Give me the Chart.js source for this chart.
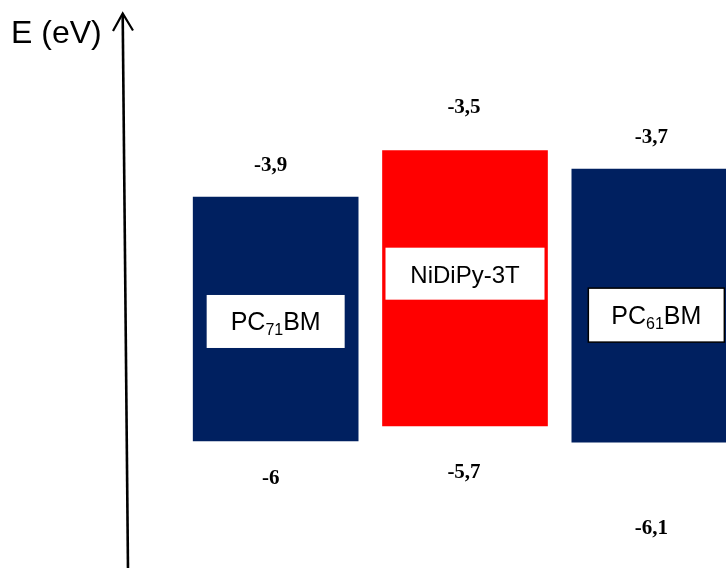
<!DOCTYPE html>
<html>
<head>
<meta charset="utf-8">
<script src="https://cdn.jsdelivr.net/npm/chart.js@4/dist/chart.umd.min.js"></script>
<style>
  html, body { margin: 0; padding: 0; background: #fff; overflow: hidden; }
</style>
</head>
<body>
<canvas id="myChart" width="749" height="568"></canvas>
<script>
// materials, in drawing order
const materials = ['PC71BM', 'NiDiPy-3T', 'PC61BM'];
// name pieces: [text, subscript, text]
const nameParts = [['PC', '71', 'BM'], ['NiDiPy-3T', '', ''], ['PC', '61', 'BM']];

// energies written on the diagram (eV)
const lumoValues = [-3.9, -3.5, -3.7];
const homoValues = [-6, -5.7, -6.1];

// level extents as drawn in the picture (eV, the sketch is not to scale)
const drawnTop = [-3.9, -3.5, -3.66];
const drawnBottom = [-6.0, -5.87, -6.01];

const barColors = ['#002060', '#FF0000', '#002060'];

// label placement, px from the bar ends
const topLabelOffset = [-31, -43, -31];
const bottomLabelOffset = [38, 47, 86];
const labelShiftX = [-5, -1, -3];
// white name boxes
const boxWidth = [138, 159, 136];
const boxHeight = [53, 52, 54];
const boxShiftY = [2.5, -14.5, 9.5];
const boxShiftX = [0, 0, 2];
const boxBorder = [false, false, true];

const fmt = v => String(v).replace('.', ',');

const decorations = {
    id: 'decorations',
    afterDatasetsDraw(chart) {
        const ctx = chart.ctx;
        const bars = chart.getDatasetMeta(0).data;
        ctx.save();

        bars.forEach((bar, i) => {
            const top = Math.min(bar.y, bar.base);
            const bottom = Math.max(bar.y, bar.base);
            const cx = bar.x + boxShiftX[i];
            const cy = (top + bottom) / 2 + boxShiftY[i];

            // name box
            ctx.fillStyle = '#fff';
            ctx.fillRect(cx - boxWidth[i] / 2, cy - boxHeight[i] / 2, boxWidth[i], boxHeight[i]);
            if (boxBorder[i]) {
                ctx.strokeStyle = '#000';
                ctx.lineWidth = 1.5;
                ctx.strokeRect(cx - boxWidth[i] / 2, cy - boxHeight[i] / 2, boxWidth[i], boxHeight[i]);
            }

            // name with subscript
            const [a, sub, b] = nameParts[i];
            const big = sub ? '25px "Liberation Sans"' : '24px "Liberation Sans"';
            const small = '16px "Liberation Sans"';
            ctx.font = big;
            const wa = ctx.measureText(a).width;
            const wb = ctx.measureText(b).width;
            ctx.font = small;
            const ws = ctx.measureText(sub).width;
            let x = cx - (wa + ws + wb) / 2;
            const base = cy + 9;
            ctx.fillStyle = '#000';
            ctx.textAlign = 'left';
            ctx.textBaseline = 'alphabetic';
            ctx.font = big;
            ctx.fillText(a, x, base);
            x += wa;
            ctx.font = small;
            ctx.fillText(sub, x, base + 5);
            x += ws;
            ctx.font = big;
            ctx.fillText(b, x, base);

            // energy values
            ctx.font = 'bold 21px "Liberation Serif"';
            ctx.textAlign = 'center';
            ctx.textBaseline = 'middle';
            ctx.fillText(fmt(lumoValues[i]), bar.x + labelShiftX[i], top + topLabelOffset[i]);
            ctx.fillText(fmt(homoValues[i]), bar.x + labelShiftX[i], bottom + bottomLabelOffset[i]);
        });

        // energy axis arrow
        ctx.strokeStyle = '#000';
        ctx.lineWidth = 2.6;
        ctx.lineCap = 'butt';
        ctx.beginPath();
        ctx.moveTo(128, 570);
        ctx.lineTo(122.7, 15);
        ctx.stroke();
        ctx.lineWidth = 2.2;
        ctx.beginPath();
        ctx.moveTo(113, 31);
        ctx.lineTo(122.7, 13.5);
        ctx.lineTo(133, 30.5);
        ctx.stroke();

        ctx.font = '32px "Liberation Sans"';
        ctx.textAlign = 'left';
        ctx.textBaseline = 'alphabetic';
        ctx.fillText('E (eV)', 11, 43);

        ctx.restore();
    }
};

const data = {
    labels: materials,
    datasets: [
        {
            data: materials.map((_, i) => [drawnBottom[i], drawnTop[i]]),
            backgroundColor: barColors,
            borderWidth: 0,
            barThickness: 165
        }
    ]
};

const conf = {
    type: 'bar',
    data: data,
    options: {
        responsive: false,
        animation: false,
        layout: {
            padding: { left: 181, right: 0, top: 0, bottom: 0 }
        },
        plugins: {
            legend: { display: false },
            tooltip: { enabled: false }
        },
        scales: {
            x: { display: false, offset: true },
            y: { display: false, min: -7.093, max: -2.205 }
        }
    },
    plugins: [decorations]
};

const ctx = document.getElementById('myChart').getContext('2d');
const chart = new Chart(ctx, conf);
</script>
</body>
</html>
